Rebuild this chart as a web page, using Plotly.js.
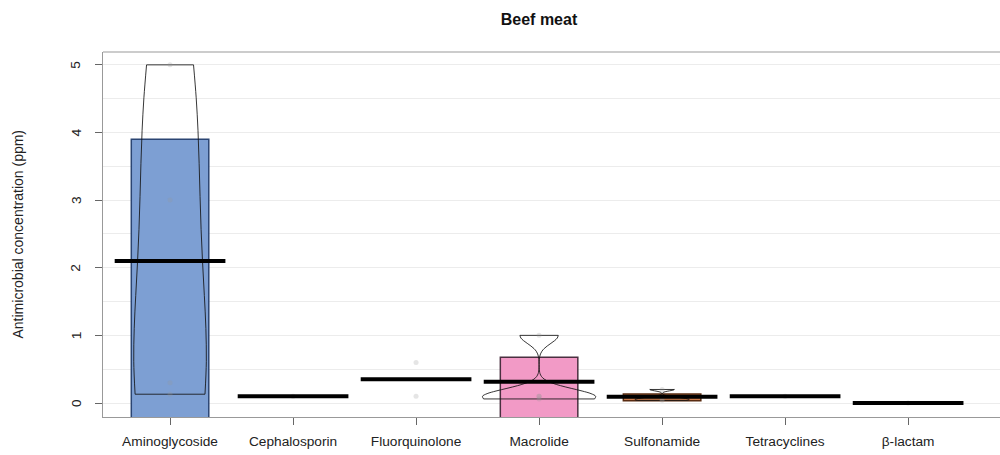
<!DOCTYPE html>
<html>
<head>
<meta charset="utf-8">
<script src="https://cdn.plot.ly/plotly-3.0.1.min.js"></script>
<style>
  html, body { margin: 0; padding: 0; background: #fff; }
  #chart { width: 1000px; height: 455px; }
</style>
</head>
<body>
<div id="chart"></div>
<script>
// ---- data ----
const categories = ['Aminoglycoside', 'Cephalosporin', 'Fluorquinolone', 'Macrolide', 'Sulfonamide', 'Tetracyclines', 'β-lactam'];
const meanValues = [2.10, 0.10, 0.35, 0.315, 0.093, 0.10, 0.00];
const bandLow  = [-0.6, null, null, -0.6, 0.035, null, null];
const bandHigh = [3.90, null, null, 0.675, 0.133, null, null];
const pointsAminoglycoside = [5.0, 3.0, 0.30, 0.13];
const pointsCephalosporin = [0.10];
const pointsFluorquinolone = [0.60, 0.10];
const pointsMacrolide = [1.0, 0.10, 0.10, 0.06];
const pointsSulfonamide = [0.20, 0.08, 0.05, 0.04];
const pointsTetracyclines = [0.10];
const pointsBetaLactam = [0.0];
const beanBandwidth = [1.6, null, null, 0.12, 0.02, null, null];
const beanWidth = [0.59, null, null, 0.92, 0.44, null, null];
const yTickVals = [0, 1, 2, 3, 4, 5];
const yTickText = ['0', '1', '2', '3', '4', '5'];

const allPoints = [pointsAminoglycoside, pointsCephalosporin, pointsFluorquinolone, pointsMacrolide, pointsSulfonamide, pointsTetracyclines, pointsBetaLactam];
const bandFill = ['#7d9fd3', null, null, '#f29ac6', '#cf7d4c', null, null];
const bandLine = ['#2b4573', null, null, '#4a3040', '#5a2c12', null, null];

const traces = [];
const pos = categories.map((c, i) => i + 1);

// inference bands (bars)
categories.forEach((c, i) => {
  if (bandHigh[i] === null) return;
  traces.push({
    type: 'bar', x: [pos[i]], y: [bandHigh[i] - bandLow[i]], base: [bandLow[i]],
    width: 0.63, marker: {color: bandFill[i], line: {color: bandLine[i], width: 1.5}},
    hoverinfo: 'skip', showlegend: false
  });
});

// beans
categories.forEach((c, i) => {
  if (beanBandwidth[i] === null) return;
  traces.push({
    type: 'violin', x: allPoints[i].map(() => pos[i]), y: allPoints[i],
    bandwidth: beanBandwidth[i], spanmode: 'hard', scalemode: 'width', width: beanWidth[i],
    points: false, box: {visible: false}, meanline: {visible: false},
    fillcolor: 'rgba(0,0,0,0)', line: {color: 'rgba(20,20,20,0.85)', width: 1},
    hoverinfo: 'skip', showlegend: false
  });
});

// raw points
const px = [], py = [];
allPoints.forEach((arr, i) => arr.forEach(v => { px.push(pos[i]); py.push(v); }));
traces.push({
  type: 'scatter', mode: 'markers', x: px, y: py,
  marker: {size: 5, color: 'rgba(150,150,150,0.25)'},
  hoverinfo: 'skip', showlegend: false
});

// mean lines
categories.forEach((c, i) => {
  traces.push({
    type: 'scatter', mode: 'lines', x: [pos[i] - 0.45, pos[i] + 0.45], y: [meanValues[i], meanValues[i]],
    line: {color: '#000', width: 4}, hoverinfo: 'skip', showlegend: false
  });
});

const font = 'Liberation Sans, Arial, sans-serif';

// rotated y tick labels (R style, las = 0)
const yLabelAnnotations = yTickVals.map((v, k) => ({
  xref: 'paper', yref: 'y', x: 0, y: v, xshift: -27, xanchor: 'center', yanchor: 'middle',
  text: yTickText[k], textangle: -90, showarrow: false,
  font: {family: font, size: 13.7, color: '#222'}
}));

const layout = {
  width: 1000, height: 455,
  margin: {l: 103, r: 0, t: 52, b: 38},
  paper_bgcolor: '#fff', plot_bgcolor: '#fff',
  font: {family: font, size: 13.5, color: '#333'},
  title: {text: '<b>Beef meat</b>', font: {family: font, size: 16, color: '#111'},
          x: 0.539, xref: 'container', xanchor: 'center', y: 0.958, yref: 'container', yanchor: 'middle'},
  violinmode: 'overlay', violingap: 0, violingroupgap: 0, barmode: 'overlay',
  showlegend: false,
  xaxis: {
    range: [0.455, 7.747], tickmode: 'array', tickvals: pos, ticktext: categories,
    showgrid: false, zeroline: false, showline: true, linecolor: '#999', linewidth: 1.2,
    ticks: 'outside', ticklen: 7, tickcolor: '#666', tickwidth: 1, ticklabelstandoff: 4,
    tickfont: {family: font, size: 13.7, color: '#222'}, fixedrange: true
  },
  yaxis: {
    range: [-0.207, 5.19], tickmode: 'array', tickvals: yTickVals, showticklabels: false,
    showgrid: true, gridcolor: '#ececec', gridwidth: 1,
    minor: {dtick: 0.5, tick0: 0, showgrid: true, gridcolor: '#ececec', gridwidth: 1, ticks: ''},
    zeroline: false, showline: true, linecolor: '#999', linewidth: 1.2,
    ticks: 'outside', ticklen: 7, tickcolor: '#666', tickwidth: 1,
    fixedrange: true
  },
  annotations: yLabelAnnotations.concat([{
    xref: 'paper', yref: 'paper', x: 0, y: 0.5, xshift: -86, xanchor: 'center', yanchor: 'middle',
    text: 'Antimicrobial concentration (ppm)', textangle: -90, showarrow: false,
    font: {family: font, size: 14, color: '#222'}
  }]),
  shapes: [{type: 'line', xref: 'paper', yref: 'paper', x0: 0, x1: 1, y0: 1, y1: 1, line: {color: '#999', width: 1.2}}]
};

Plotly.newPlot('chart', traces, layout, {displayModeBar: false, staticPlot: true});
</script>
</body>
</html>
